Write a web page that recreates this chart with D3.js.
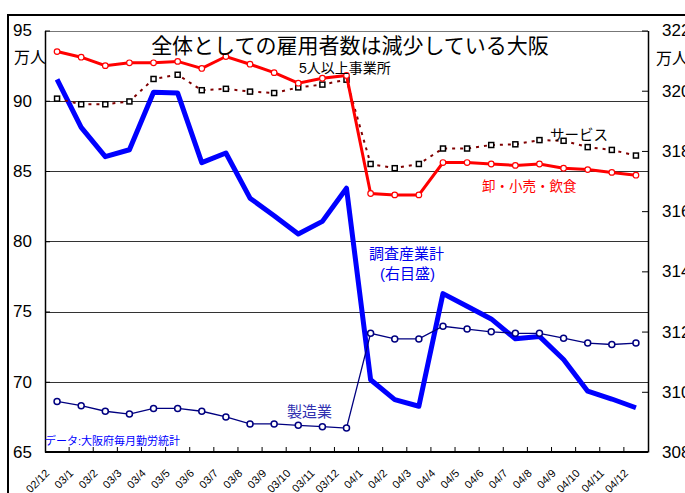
<!DOCTYPE html>
<html lang="ja">
<head>
<meta charset="utf-8">
<title>雇用者数 大阪</title>
<script src="https://d3js.org/d3.v7.min.js"></script>
<style type="text/css">
	body { margin: 0; background: #fff; }
	svg { font-family: "Liberation Sans", Arial, "Noto Sans CJK JP", sans-serif; }
</style>
</head>
<body>
<script type="text/javascript">

// data (万人)
var months = ["02/12","03/1","03/2","03/3","03/4","03/5","03/6","03/7","03/8","03/9","03/10","03/11","03/12",
	"04/1","04/2","04/3","04/4","04/5","04/6","04/7","04/8","04/9","04/10","04/11","04/12"];
var retail = [93.5,93.1,92.5,92.7,92.7,92.8,92.3,93.15,92.6,92.0,91.25,91.6,91.8,
	83.4,83.3,83.3,85.6,85.6,85.5,85.4,85.5,85.2,85.1,84.9,84.7];
var service = [90.15,89.75,89.75,89.95,91.55,91.85,90.75,90.85,90.65,90.55,90.95,91.15,91.5,
	85.5,85.2,85.5,86.6,86.6,86.85,86.9,87.2,87.15,86.7,86.5,86.1];
var manufacturing = [68.6,68.3,67.9,67.7,68.1,68.1,67.9,67.5,67.0,67.0,66.9,66.8,66.7,
	73.45,73.05,73.05,73.95,73.75,73.55,73.45,73.45,73.1,72.75,72.65,72.75];
var total = [320.38,318.78,317.81,318.04,319.95,319.92,317.61,317.93,316.43,315.85,315.24,315.66,316.76,
	310.4,309.74,309.52,313.26,312.84,312.42,311.76,311.84,311.07,310.02,309.76,309.47];
var leftTicks = [65,70,75,80,85,90,95];
var rightTicks = [308,310,312,314,316,318,320,322];

// size (avoid "top" – it is window.top)
var w = 685, h = 493;
var plotL = 45, plotR = 648, plotT = 30.5, plotB = 452;

var svg = d3.select("body").append("svg")
	.attr("width", w).attr("height", h);

// outer frame
svg.append("rect")
	.attr("x", 8).attr("y", 15).attr("width", 700).attr("height", 500)
	.attr("fill", "none").attr("stroke", "#000").attr("stroke-width", 2);

// scales
var xScale = d3.scaleBand().domain(months).range([plotL, plotR]).padding(0);
var yL = d3.scaleLinear().domain([65, 95]).range([plotB, plotT]);
var yR = d3.scaleLinear().domain([308, 322]).range([plotB, plotT]);
var cx = d => xScale(d) + xScale.bandwidth() / 2;

// grid
svg.append("g").selectAll("line")
	.data(leftTicks.slice(1))
	.enter().append("line")
	.attr("x1", plotL).attr("x2", plotR)
	.attr("y1", d => Math.round(yL(d)) + 0.5).attr("y2", d => Math.round(yL(d)) + 0.5)
	.attr("stroke", d => d == 95 ? "#777" : "#333").attr("stroke-width", 1);

// left axis
var yAxisL = d3.axisLeft(yL).tickValues(leftTicks).tickSizeInner(-5).tickSizeOuter(0).tickPadding(13);
svg.append("g")
	.attr("transform", "translate(" + plotL + ",0)")
	.call(yAxisL)
	.call(g => g.select(".domain").attr("stroke-width", 1.5))
	.selectAll("text").attr("font-size", 17).attr("fill", "#000")
	.attr("font-family", "Liberation Sans, Arial, sans-serif");

// right axis
var yAxisR = d3.axisRight(yR).tickValues(rightTicks).tickSizeInner(-6).tickSizeOuter(0).tickPadding(14);
svg.append("g")
	.attr("transform", "translate(" + plotR + ",0)")
	.call(yAxisR)
	.call(g => g.select(".domain").attr("stroke-width", 1.5))
	.selectAll("text").attr("font-size", 17).attr("fill", "#000")
	.attr("font-family", "Liberation Sans, Arial, sans-serif");

// bottom axis (ticks between months)
svg.append("line")
	.attr("x1", plotL).attr("x2", plotR).attr("y1", plotB).attr("y2", plotB)
	.attr("stroke", "#000").attr("stroke-width", 2);
svg.append("g").selectAll("line")
	.data(months.slice(1))
	.enter().append("line")
	.attr("x1", d => xScale(d)).attr("x2", d => xScale(d))
	.attr("y1", plotB).attr("y2", plotB - 5)
	.attr("stroke", "#000");
svg.append("g").selectAll("text")
	.data(months)
	.enter().append("text")
	.attr("transform", d => "translate(" + (cx(d) - 7) + "," + 474 + ") rotate(-45)")
	.attr("text-anchor", "end")
	.attr("font-size", 11)
	.text(d => d);

// unit labels
svg.append("text").attr("x", 14).attr("y", 63).attr("font-size", 16).text("万人");
svg.append("text").attr("x", 656).attr("y", 64).attr("font-size", 16).text("万人");

// lines
var lineL = d3.line().x((d, i) => cx(months[i])).y(d => yL(d));
var lineR = d3.line().x((d, i) => cx(months[i])).y(d => yR(d));

// 調査産業計 (right)
svg.append("path").datum(total)
	.attr("d", lineR).attr("fill", "none")
	.attr("stroke", "#0000ff").attr("stroke-width", 5).attr("stroke-linejoin", "round");

// サービス
svg.append("path").datum(service)
	.attr("d", lineL).attr("fill", "none")
	.attr("stroke", "#800000").attr("stroke-width", 2).attr("stroke-dasharray", "3,5");
svg.append("g").selectAll("rect")
	.data(service).enter().append("rect")
	.attr("x", (d, i) => cx(months[i]) - 2.5).attr("y", d => yL(d) - 2.5)
	.attr("width", 5).attr("height", 5)
	.attr("fill", "#fff").attr("stroke", "#000").attr("stroke-width", 1.5);

// 卸・小売・飲食
svg.append("path").datum(retail)
	.attr("d", lineL).attr("fill", "none")
	.attr("stroke", "#ff0000").attr("stroke-width", 3);
svg.append("g").selectAll("circle")
	.data(retail).enter().append("circle")
	.attr("cx", (d, i) => cx(months[i])).attr("cy", d => yL(d)).attr("r", 2.8)
	.attr("fill", "#fff").attr("stroke", "#ff0000").attr("stroke-width", 1.2);

// 製造業
svg.append("path").datum(manufacturing)
	.attr("d", lineL).attr("fill", "none")
	.attr("stroke", "#000080").attr("stroke-width", 1.3);
svg.append("g").selectAll("circle")
	.data(manufacturing).enter().append("circle")
	.attr("cx", (d, i) => cx(months[i])).attr("cy", d => yL(d)).attr("r", 3)
	.attr("fill", "#fff").attr("stroke", "#000080").attr("stroke-width", 1.5);

// title and notes
svg.append("text").attr("x", 350).attr("y", 53).attr("text-anchor", "middle")
	.attr("font-size", 21).text("全体としての雇用者数は減少している大阪");
svg.append("text").attr("x", 299).attr("y", 73).attr("font-size", 14).text("5人以上事業所");
svg.append("text").attr("x", 550).attr("y", 140).attr("font-size", 14.5).text("サービス");
svg.append("text").attr("x", 482).attr("y", 191).attr("font-size", 13.5).attr("fill", "#ff0000").text("卸・小売・飲食");
svg.append("text").attr("x", 369).attr("y", 259).attr("font-size", 15).attr("fill", "#0000ee").text("調査産業計");
svg.append("text").attr("x", 380).attr("y", 279).attr("font-size", 15).attr("fill", "#0000ee").text("(右目盛)");
svg.append("text").attr("x", 287).attr("y", 417).attr("font-size", 15).attr("fill", "#3030b0").text("製造業");
svg.append("text").attr("x", 45).attr("y", 445).attr("font-size", 11).attr("fill", "#0000ff").text("データ:大阪府毎月勤労統計");

</script>
</body>
</html>
